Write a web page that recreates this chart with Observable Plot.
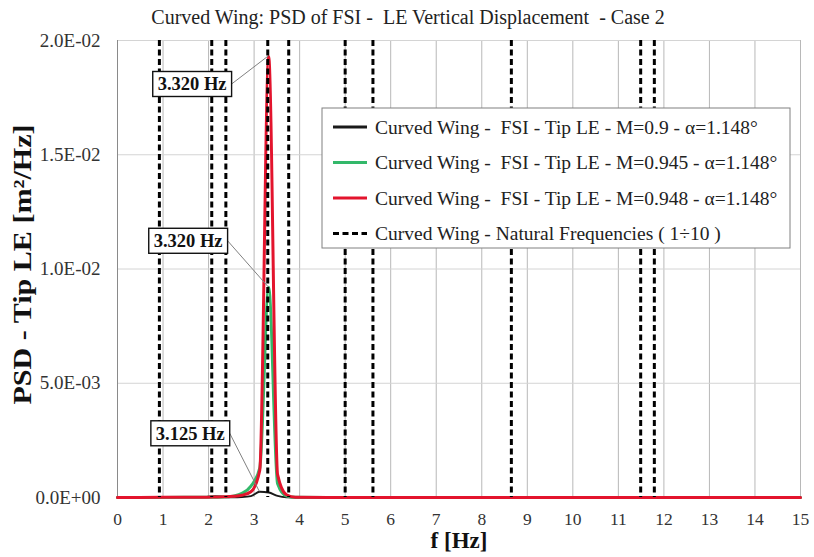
<!DOCTYPE html>
<html>
<head>
<meta charset="utf-8">
<script src="https://cdn.jsdelivr.net/npm/d3@7"></script>
<script src="https://cdn.jsdelivr.net/npm/@observablehq/plot@0.6"></script>
<style>
  body { margin: 0; background: #fff; }
  #chart { width: 814px; height: 557px; }
  #chart svg text { white-space: pre; }
</style>
</head>
<body>
<div id="chart"></div>
<script>
// Frequency samples [Hz] and PSD of the tip leading-edge vertical displacement [m²/Hz]
const freq     = [0, 0.977, 1.953, 2.148, 2.344, 2.539, 2.734, 2.930, 3.125, 3.320, 3.516, 3.711, 3.906, 5.000, 8.000, 12.000, 15.000];
const psdM0900 = [2e-6, 1e-5, 2e-5, 6e-5, 2e-5, 1e-5, 2e-5, 6e-5, 2.5e-4, 2.2e-4, 7e-5, 1e-5, 3e-6, 1e-6, 1e-6, 1e-6, 1e-6];
const psdM0945 = [2e-6, 5e-6, 1e-5, 1.5e-5, 2e-5, 6e-5, 1.8e-4, 5e-4, 1.3e-3, 9.2e-3, 6e-4, 6e-5, 1e-5, 2e-6, 1e-6, 1e-6, 1e-6];
const psdM0948 = [3e-6, 6e-6, 1.2e-5, 2e-5, 3e-5, 5e-5, 1e-4, 2.5e-4, 1.2e-3, 1.93e-2, 1.0e-3, 1.2e-4, 1.5e-5, 3e-6, 1e-6, 1e-6, 1e-6];

// First ten natural frequencies of the curved wing [Hz]
const naturalFreq = [0.92, 2.07, 2.38, 3.30, 3.76, 5.00, 5.61, 8.65, 11.49, 11.79];

const seriesNames = [
  "Curved Wing -  FSI - Tip LE - M=0.9 - α=1.148°",
  "Curved Wing -  FSI - Tip LE - M=0.945 - α=1.148°",
  "Curved Wing -  FSI - Tip LE - M=0.948 - α=1.148°"
];
const naturalName = "Curved Wing - Natural Frequencies ( 1÷10 )";
const seriesColors = ["#1a1a1a", "#33b86a", "#e3142d"];
const seriesWidths = [2, 3, 3];

const xTicks = d3.range(0, 16);
const yTicks = [0, 0.005, 0.010, 0.015, 0.020];

const titleText = "Curved Wing: PSD of FSI -  LE Vertical Displacement  - Case 2";
const xLabel = "f [Hz]";
const yLabel = "PSD - Tip LE [m²/Hz]";

// Long-format table built from the arrays above
const seriesValues = [psdM0900, psdM0945, psdM0948];
const rows = seriesValues.flatMap((vals, s) =>
  vals.map((v, i) => ({ f: freq[i], psd: v, series: s })));

// Excel-like scientific format: 1.5E-02, 0.0E+00
const sci = v => {
  const [m, e] = v.toExponential(1).toUpperCase().split("E");
  const n = +e;
  return m + "E" + (n < 0 ? "-" : "+") + String(Math.abs(n)).padStart(2, "0");
};

const font = "Liberation Serif";

const chart = Plot.plot({
  width: 814,
  height: 557,
  marginTop: 40,
  marginBottom: 60,
  marginLeft: 117,
  marginRight: 14,
  style: { fontFamily: font, fontSize: "17.5px", color: "#333", background: "#fff" },
  x: { domain: [0, 15] },
  y: { domain: [0, 0.02] },
  marks: [
    Plot.gridX({ ticks: xTicks.slice(1), stroke: "#b8b8b8", strokeOpacity: 1 }),
    Plot.gridY({ ticks: yTicks.slice(1), stroke: "#d4d4d4", strokeOpacity: 1 }),
    Plot.ruleX([0], { stroke: "#8a8a8a" }),
    Plot.axisX({ ticks: xTicks, tickSize: 0, tickPadding: 15, label: null }),
    Plot.axisY({ ticks: yTicks, tickSize: 0, tickPadding: 17, tickFormat: sci, label: null, fontSize: 19 }),
    ...seriesValues.map((_, s) =>
      Plot.line(rows.filter(d => d.series === s), {
        x: "f", y: "psd", stroke: seriesColors[s], strokeWidth: seriesWidths[s],
        curve: "monotone-x"
      })),
    Plot.ruleX(naturalFreq, { stroke: "#000", strokeWidth: 3, strokeDasharray: "6,3.5" }),
    Plot.text([titleText], { frameAnchor: "top", lineAnchor: "middle", textAnchor: "middle", dy: -23, dx: -51, fontSize: 20, fill: "#222" }),
    Plot.text([xLabel], { frameAnchor: "bottom", lineAnchor: "middle", textAnchor: "middle", dy: 43, fontSize: 23, fontWeight: "bold", fill: "#111" })
  ]
});

document.getElementById("chart").append(chart);

const sx = chart.scale("x");
const sy = chart.scale("y");
const svg = d3.select(chart);

// Vertical axis title, stretched along the frame height
svg.append("text")
  .attr("transform", `translate(22,${(sy.apply(0) + sy.apply(0.02)) / 2 - 4}) rotate(-90)`)
  .attr("text-anchor", "middle").attr("dy", "0.35em")
  .attr("font-family", font).attr("font-size", 25).attr("font-weight", "bold")
  .attr("fill", "#111")
  .attr("textLength", 280).attr("lengthAdjust", "spacingAndGlyphs")
  .text(yLabel);

// Peak annotations: box offset from the peak point, in pixels
const labelOffsets = [[-69, -58], [-80, -46], [-76, 28]];
const ann = svg.append("g");
seriesValues.forEach((vals, s) => {
  const i = d3.maxIndex(vals);
  const px = sx.apply(freq[i]);
  const py = sy.apply(vals[i]);
  const cx = px + labelOffsets[s][0];
  const cy = py + labelOffsets[s][1];
  const g = ann.append("g");
  const t = g.append("text")
    .attr("x", cx).attr("y", cy).attr("dy", "0.35em")
    .attr("text-anchor", "middle")
    .attr("font-family", font).attr("font-size", 18.5).attr("font-weight", "bold")
    .attr("fill", "#111")
    .text(freq[i].toFixed(3) + " Hz");
  const w = t.node().getComputedTextLength() + 10;
  const h = 25;
  g.insert("line", "text")
    .attr("x1", cx + w / 2).attr("y1", cy)
    .attr("x2", px).attr("y2", py)
    .attr("stroke", "#808080").attr("stroke-width", 1);
  g.insert("rect", "text")
    .attr("x", cx - w / 2).attr("y", cy - h / 2)
    .attr("width", w).attr("height", h)
    .attr("fill", "#fff").attr("stroke", "#111").attr("stroke-width", 1.4);
});

// Legend
const lg = svg.append("g").attr("transform", "translate(322,108)");
lg.append("rect").attr("width", 468).attr("height", 140)
  .attr("fill", "#fff").attr("stroke", "#808080").attr("stroke-width", 1);
const entries = seriesNames.map((n, s) => ({ name: n, color: seriesColors[s], dash: null }))
  .concat([{ name: naturalName, color: "#000", dash: "6,3.5" }]);
entries.forEach((e, k) => {
  const y = 19 + k * 35.5;
  lg.append("line").attr("x1", 11).attr("x2", 45).attr("y1", y).attr("y2", y)
    .attr("stroke", e.color).attr("stroke-width", 3)
    .attr("stroke-dasharray", e.dash);
  lg.append("text").attr("x", 53).attr("y", y).attr("dy", "0.35em")
    .attr("text-anchor", "start")
    .attr("font-family", font).attr("font-size", 19.5).attr("fill", "#222")
    .text(e.name);
});
</script>
</body>
</html>
